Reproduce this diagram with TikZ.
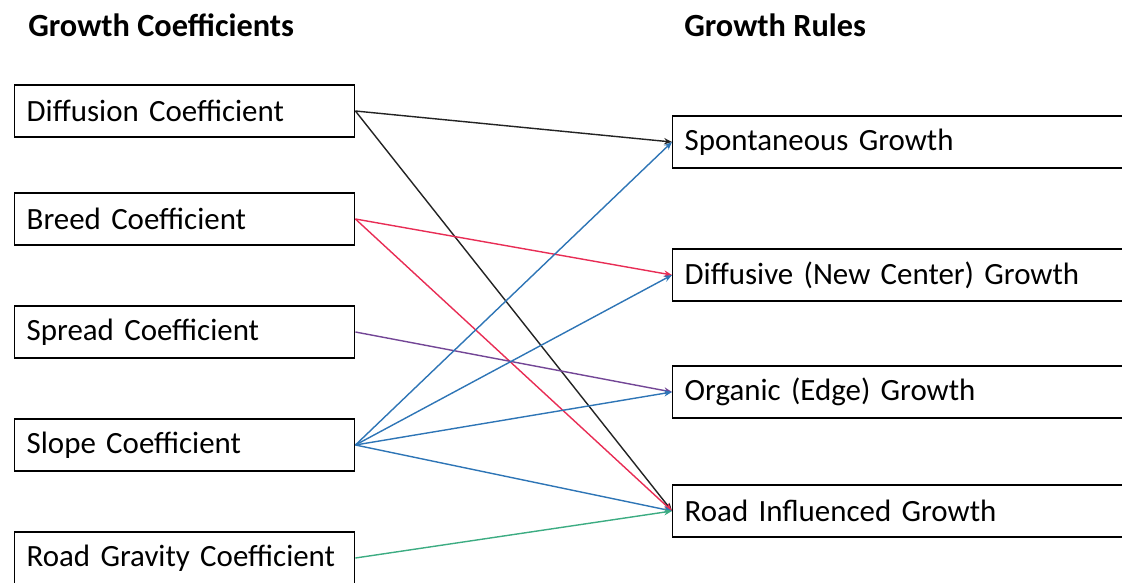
\documentclass[tikz,border=0pt]{standalone}
\usepackage{fontspec}
\setmainfont{Carlito}
\usetikzlibrary{arrows.meta}
\definecolor{linkblack}{RGB}{35,35,35}
\definecolor{linkred}{RGB}{232,45,85}
\definecolor{linkpurple}{RGB}{115,70,150}
\definecolor{linkblue}{RGB}{46,117,182}
\definecolor{linkgreen}{RGB}{60,172,130}
\tikzset{
  coefbox/.style={draw, line width=1pt, anchor=west, minimum width=85mm,
    minimum height=13mm, inner xsep=3mm, text width=79mm, align=left,
    font=\fontsize{22}{26}\selectfont},
  rulebox/.style={coefbox, minimum width=115mm, text width=109mm},
  title/.style={anchor=west, inner sep=0pt, font=\fontsize{23}{27}\selectfont\bfseries},
  link/.style={line width=1pt, -{Stealth[length=2mm,width=1.6mm]}}
}
\begin{document}
\begin{tikzpicture}[x=0.25mm, y=-0.25mm]
        \clip (0,0) rectangle (1122,583);
        % headings
        \node[title] (coefhead) at (28,25) {Growth Coefficients};
        \node[title] (rulehead) at (684,25) {Growth Rules};
        % coefficients
        \node[coefbox] (diffusion) at (14,111) {Diffusion Coefficient};
        \node[coefbox] (breed) at (14,219) {Breed Coefficient};
        \node[coefbox] (spread) at (14,332) {Spread Coefficient};
        \node[coefbox] (slope) at (14,445) {Slope Coefficient};
        \node[coefbox] (roadgravity) at (14,558) {Road Gravity Coefficient};
        % growth rules
        \node[rulebox] (spontaneous) at (672,142) {Spontaneous Growth};
        \node[rulebox] (diffusive) at (672,275) {Diffusive (New Center) Growth};
        \node[rulebox] (organic) at (672,392) {Organic (Edge) Growth};
        \node[rulebox] (roadinfl) at (672,511) {Road Influenced Growth};
        % links
        \draw[link, linkblack] (diffusion.east) -- (spontaneous.west);
        \draw[link, linkblack] (diffusion.east) -- (roadinfl.west);
        \draw[link, linkred] (breed.east) -- (diffusive.west);
        \draw[link, linkred] (breed.east) -- (roadinfl.west);
        \draw[link, linkpurple] (spread.east) -- (organic.west);
        \foreach \target in {spontaneous, diffusive, organic, roadinfl}
            \draw[link, linkblue] (slope.east) -- (\target.west);
        \draw[link, linkgreen] (roadgravity.east) -- (roadinfl.west);
\end{tikzpicture}
\end{document}
